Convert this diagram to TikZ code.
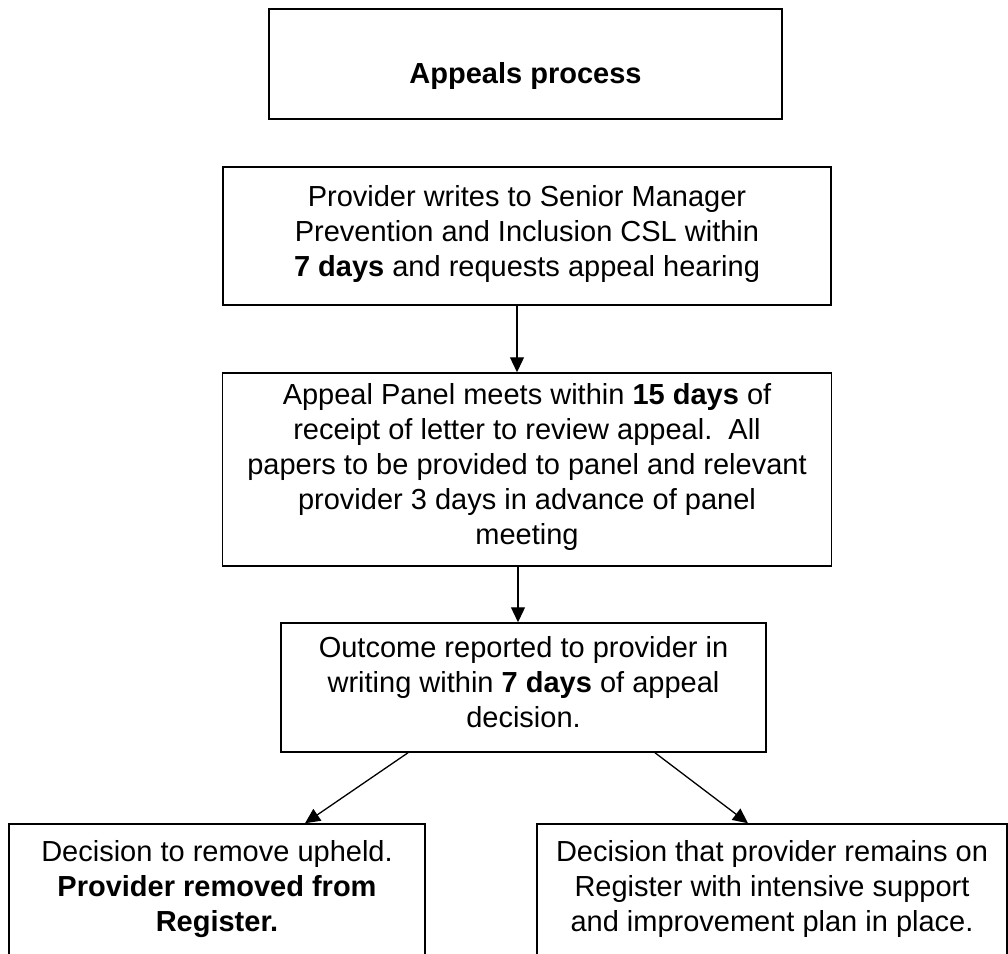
\documentclass[tikz,border=0pt]{standalone}
\usepackage{fontspec}
\setmainfont{Liberation Sans}
\usetikzlibrary{arrows.meta}

\begin{document}
\begin{tikzpicture}[x=1pt,y=-1pt,
    flowbox/.style={draw,line width=1.5pt,rectangle,align=center,inner sep=0pt,
      font=\fontsize{29}{35}\selectfont,
      execute at begin node=\strut,execute at end node=\strut},
    arr/.style={line width=1.3pt,-{Triangle[length=15pt,width=14pt]}}]
    \useasboundingbox (0,0) rectangle (1008,953);
    \node[flowbox,minimum width=513pt,minimum height=110pt,text height=40pt,text depth=2pt,
      execute at begin node={},execute at end node={}] (title) at (525.5,64) {\textbf{Appeals process}};
    \node[flowbox,minimum width=608pt,minimum height=138pt] (writes) at (527,236)
      {Provider writes to Senior Manager\\ Prevention and Inclusion CSL within\\ \textbf{7 days} and requests appeal hearing};
    \node[flowbox,minimum width=609pt,minimum height=193pt] (panel) at (527,469.5)
      {Appeal Panel meets within \textbf{15 days} of\\ receipt of letter to review appeal.\ \ All\\ papers to be provided to panel and relevant\\ provider 3 days in advance of panel\\ meeting};
    \node[flowbox,minimum width=485pt,minimum height=129pt] (outcome) at (523.5,687.5)
      {Outcome reported to provider in\\ writing within \textbf{7 days} of appeal\\ decision.};
    \node[flowbox,minimum width=416pt,minimum height=135pt] (removed) at (217,891.5)
      {Decision to remove upheld.\\ \textbf{Provider removed from}\\ \textbf{Register.}};
    \node[flowbox,minimum width=470pt,minimum height=135pt] (remains) at (772,891.5)
      {Decision that provider remains on\\ Register with intensive support\\ and improvement plan in place.};
    \draw[arr] ([xshift=-10pt]writes.south) -- ([xshift=-10pt]panel.north);
    \draw[arr] ([xshift=-9pt]panel.south) -- ([xshift=-5.5pt]outcome.north);
    \draw[arr] ([xshift=-115.5pt]outcome.south) -- ([xshift=88pt]removed.north);
    \draw[arr] ([xshift=131.5pt]outcome.south) -- ([xshift=-24pt]remains.north);
\end{tikzpicture}
\end{document}
